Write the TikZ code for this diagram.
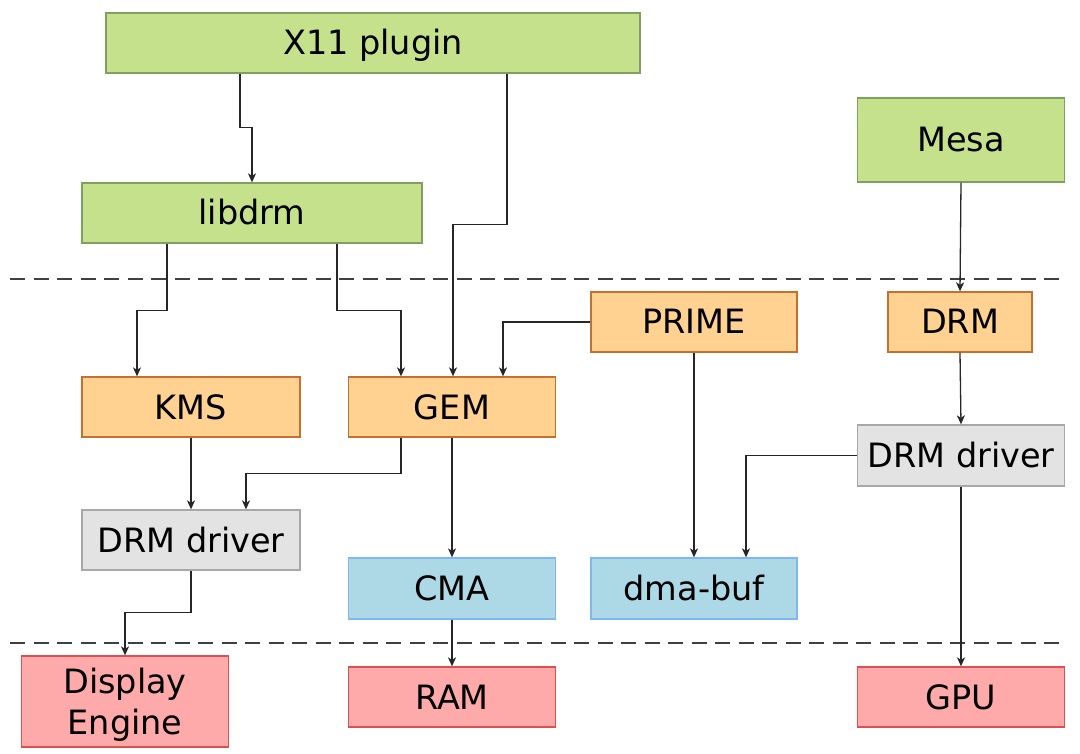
\documentclass[tikz,border=0pt]{standalone}
\usepackage{fontspec}
\setmainfont{DejaVu Sans}
\usetikzlibrary{arrows.meta}
\definecolor{gfill}{RGB}{197,225,139}
\definecolor{gline}{RGB}{128,160,96}
\definecolor{ofill}{RGB}{255,210,145}
\definecolor{oline}{RGB}{196,112,48}
\definecolor{yfill}{RGB}{227,227,227}
\definecolor{yline}{RGB}{168,168,168}
\definecolor{bfill}{RGB}{173,216,230}
\definecolor{bline}{RGB}{125,184,245}
\definecolor{rfill}{RGB}{255,170,170}
\definecolor{rline}{RGB}{222,80,80}
\tikzset{
  box/.style={draw, line width=1.3pt, inner sep=0pt, align=center, anchor=center,
    text height=30pt, text depth=6pt,
    font=\fontsize{33.5}{41}\selectfont},
  green/.style={box, fill=gfill, draw=gline},
  orange/.style={box, fill=ofill, draw=oline},
  grey/.style={box, fill=yfill, draw=yline},
  blue/.style={box, fill=bfill, draw=bline},
  red/.style={box, fill=rfill, draw=rline},
  arr/.style={draw=black!85, line width=1.3pt, -{Stealth[length=9pt,width=8pt,inset=2.5pt]}},
  sep/.style={draw=black!75, line width=1.2pt, dash pattern=on 15pt off 8.5pt}
}
\begin{document}
\begin{tikzpicture}[x=1pt,y=-1pt]
\useasboundingbox (0,0) rectangle (1080,754);
\draw[sep] (10,279) -- (1066,279);
\draw[sep] (10,643) -- (1066,643);
\node[green, minimum width=534pt, minimum height=60pt] (x11) at (373,43) {X11 plugin};
\node[green, minimum width=340pt, minimum height=60pt] (libdrm) at (252,213) {libdrm};
\node[green, minimum width=207pt, minimum height=84pt] (mesa) at (961,140) {Mesa};
\node[orange, minimum width=206pt, minimum height=60pt] (prime) at (694,322) {PRIME};
\node[orange, minimum width=144pt, minimum height=60pt] (drm) at (960,322) {DRM};
\node[orange, minimum width=218pt, minimum height=60pt] (kms) at (191,407) {KMS};
\node[orange, minimum width=207pt, minimum height=60pt] (gem) at (452,407) {GEM};
\node[grey, minimum width=207pt, minimum height=61pt] (drvR) at (961,455.5) {DRM driver};
\node[grey, minimum width=218pt, minimum height=60pt] (drvL) at (191,540) {DRM driver};
\node[blue, minimum width=207pt, minimum height=61pt] (cma) at (452,588.5) {CMA};
\node[blue, minimum width=206pt, minimum height=61pt] (dmabuf) at (694,588.5) {dma-buf};
\node[red, minimum width=207pt, minimum height=91pt, text height=68pt, text depth=3pt] (disp) at (125,701.5) {Display\\Engine};
\node[red, minimum width=207pt, minimum height=60pt] (ram) at (452,697) {RAM};
\node[red, minimum width=207pt, minimum height=60pt] (gpu) at (961,697) {GPU};
% connectors
\draw[arr] ([xshift=-133pt]x11.south) -- ++(0,54) -| (libdrm.north);
\draw[arr] ([xshift=134pt]x11.south) -- ++(0,151) -| ([xshift=1pt]gem.north);
\draw[arr] ([xshift=-85pt]libdrm.south) -- ++(0,67) -| ([xshift=-54pt]kms.north);
\draw[arr] ([xshift=85pt]libdrm.south) -- ++(0,67) -| ([xshift=-51pt]gem.north);
\draw[arr] (prime.west) -| ([xshift=51pt]gem.north);
\draw[arr] (mesa.south) -- (drm.north);
\draw[arr] (drm.south) -- (drvR.north);
\draw[arr] (drvR.west) -| ([xshift=52pt]dmabuf.north);
\draw[arr] (prime.south) -- (dmabuf.north);
\draw[arr] (drvR.south) -- (gpu.north);
\draw[arr] (kms.south) -- (drvL.north);
\draw[arr] ([xshift=-51pt]gem.south) -- ++(0,36) -| ([xshift=55pt]drvL.north);
\draw[arr] (gem.south) -- (cma.north);
\draw[arr] (cma.south) -- (ram.north);
\draw[arr] (drvL.south) -- ++(0,42) -| (disp.north);
\end{tikzpicture}
\end{document}
